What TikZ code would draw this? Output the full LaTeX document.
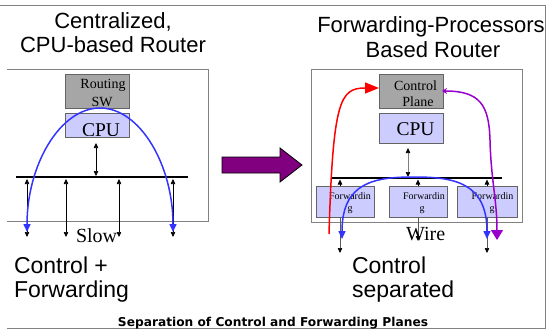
\documentclass[tikz,border=0pt]{standalone}
\usepackage{fontspec}
\setmainfont{Liberation Serif}
\newfontfamily\headfont{Liberation Sans}
\newfontfamily\capfont{DejaVu Sans}
\usetikzlibrary{arrows.meta}
\definecolor{boxgray}{RGB}{166,166,166}
\definecolor{boxedge}{RGB}{100,100,100}
\definecolor{lavender}{RGB}{204,204,255}
\definecolor{framegray}{RGB}{130,130,130}
\definecolor{arcblue}{RGB}{51,51,255}
\definecolor{ctlpurple}{RGB}{153,0,204}
\definecolor{bigpurple}{RGB}{128,0,128}
\begin{document}
\begin{tikzpicture}[x=1pt,y=-1pt,
  every node/.style={inner sep=0pt, outer sep=0pt},
  swbox/.style={draw=boxedge, fill=boxgray, line width=0.8pt, minimum width=64pt, minimum height=34pt},
  cpubox/.style={draw=boxedge, fill=lavender, line width=0.8pt, minimum width=64pt},
  fwdbox/.style={draw=boxedge, fill=lavender, line width=0.8pt, minimum height=31pt},
  routerframe/.style={draw=framegray, line width=1pt},
  busline/.style={line width=1.6pt},
  dblarrow/.style={{Triangle[length=5pt,width=4.5pt,color=black]}-{Triangle[length=5pt,width=4.5pt,color=black]}, line width=0.6pt},
  uparrow/.style={-{Triangle[length=5pt,width=4.5pt,color=black]}, line width=0.6pt},
  arcpath/.style={arcblue, line width=1.5pt, {Triangle[length=8pt,width=7pt]}-{Triangle[length=8pt,width=7pt]}},
  headline/.style={font=\headfont\fontsize{22}{24}\selectfont, anchor=base},
  bigline/.style={font=\headfont\fontsize{23}{24}\selectfont, anchor=base west},
  boxtext/.style={font=\fontsize{14}{14}\selectfont, anchor=base},
  cputext/.style={font=\fontsize{19.5}{20}\selectfont, anchor=base},
  fwdtext/.style={font=\fontsize{10}{10}\selectfont, anchor=base},
  wiretext/.style={font=\fontsize{20}{20}\selectfont, anchor=base west}
]
\useasboundingbox (0,0) rectangle (550,330);

% outer frame
\draw[framegray, line width=1pt] (0,5) -- (545,5) -- (545,328) -- (7,328);

% ---------- left: centralized router ----------
\node[headline] (lt1) at (113,28) {Centralized,};
\node[headline] (lt2) at (113,52) {CPU-based Router};

\draw[routerframe] (7,69) -- (208,69) -- (208,221) -- (7,221);

\node[swbox] (rsw) at (97,91) {};
\node[cpubox, minimum height=24pt] (lcpu) at (97,125) {};
\begin{scope}
  \clip (66,75) rectangle (128,105);
  \node[boxtext] (rswa) at (103,88) {Routing};
  \node[boxtext] (rswb) at (102,106.5) {SW};
\end{scope}
\begin{scope}
  \clip (66,114) rectangle (128,135);
  \node[cputext] (lcput) at (101,136) {CPU};
\end{scope}

\coordinate (lbusW) at (16,177);
\coordinate (lbusE) at (188,177);
\draw[busline] (lbusW) -- (lbusE);

\coordinate (lcpuA) at (96,143);
\coordinate (lcpuB) at (96,176);
\draw[dblarrow] (lcpuA) -- (lcpuB);

\foreach \px/\nm in {27/a,66/b,119/c,173/d}{
  \coordinate (lt\nm) at (\px,179);
  \coordinate (lb\nm) at (\px,237);
  \draw[dblarrow] (lt\nm) -- (lb\nm);
}

\node[wiretext] (slow) at (76,242) {Slow};

\coordinate (lArcA) at (27,232);
\coordinate (lArcTop) at (100,108);
\coordinate (lArcB) at (173,232);
\draw[arcpath] (lArcA) .. controls (27,165) and (60,108) .. (lArcTop)
               .. controls (140,108) and (173,165) .. (lArcB);

\node[bigline] (lb1) at (14,273) {Control +};
\node[bigline] (lb2) at (14,297) {Forwarding};

% ---------- middle arrow ----------
\draw[fill=bigpurple, line width=0.8pt] (222,157) -- (280,157) -- (280,148) -- (302,165)
  -- (280,182) -- (280,173) -- (222,173) -- cycle;

% ---------- right: forwarding-processor router ----------
\node[headline] (rt1) at (431,32) {Forwarding-Processors};
\node[headline] (rt2) at (433,57) {Based Router};

\draw[routerframe] (311,69) rectangle (522,222);

\node[swbox] (cp) at (411,91) {};
\node[cpubox, minimum height=30pt] (rcpu) at (411,128) {};
\begin{scope}
  \clip (380,75) rectangle (442,105);
  \node[boxtext] (cpa) at (415.5,90) {Control};
  \node[boxtext] (cpb) at (418,106.5) {Plane};
\end{scope}
\node[cputext] (rcput) at (415.5,135) {CPU};

\node[fwdbox, minimum width=58pt] (f1) at (345,201.5) {};
\node[fwdbox, minimum width=58pt] (f2) at (418,201.5) {};
\node[fwdbox, minimum width=60pt] (f3) at (487,201.5) {};
\begin{scope}
  \clip (317,187) rectangle (516,213.5);
  \node[fwdtext] (f1a) at (350,199) {Forwardin};
  \node[fwdtext] (f1b) at (350,211.5) {g};
  \node[fwdtext] (f2a) at (424,199) {Forwardin};
  \node[fwdtext] (f2b) at (422,211.5) {g};
  \node[fwdtext] (f3a) at (492.5,199) {Forwardin};
  \node[fwdtext] (f3b) at (492,211.5) {g};
\end{scope}

\coordinate (rbusW) at (332,178);
\coordinate (rbusE) at (502,178);
\draw[busline] (rbusW) -- (rbusE);

\coordinate (rcpuA) at (408,148);
\coordinate (rcpuB) at (408,177);
\draw[dblarrow, draw=gray] (rcpuA) -- (rcpuB);

\foreach \px in {340,418,487}{
  \draw[uparrow] (\px,186) -- (\px,179.5);
}
\coordinate (w1) at (340,253);
\coordinate (w2) at (418,241);
\coordinate (w3) at (487,253);
\draw[uparrow, draw=gray!70!black] (f1.south -| w1) -- (w1);
\draw[uparrow, draw=gray!70!black] (f2.south -| w2) -- (w2);
\draw[uparrow, draw=gray!70!black] (f3.south -| w3) -- (w3);

\node[wiretext] (wire) at (406,240) {Wire};

\coordinate (rArcA) at (342,239);
\coordinate (rArcTop) at (414,177);
\coordinate (rArcB) at (487,239);
\draw[arcpath] (rArcA) .. controls (342,182) and (375,177) .. (rArcTop)
               .. controls (453,177) and (487,182) .. (rArcB);

\coordinate (redStart) at (329,234);
\coordinate (redEnd) at (379,88);
\draw[red, line width=1.5pt, -{Triangle[length=14pt,width=11pt]}]
  (redStart) .. controls (333,100) and (340,88) .. (redEnd);

\coordinate (purpleStart) at (442,91);
\coordinate (purpleEnd) at (497,240);
\draw[ctlpurple, line width=1.5pt, {Stealth[length=5pt,width=6pt]}-{Triangle[length=10pt,width=12pt]}]
  (purpleStart) .. controls (480,91) and (489,105) .. (490,140)
  .. controls (491,180) and (497,200) .. (purpleEnd);

\node[bigline] (rb1) at (352,273) {Control};
\node[bigline] (rb2) at (352,297) {separated};

% caption
\node[font=\capfont\bfseries\fontsize{12.2}{13}\selectfont, anchor=base] (cap) at (273,326)
  {Separation of Control and Forwarding Planes};
\end{tikzpicture}
\end{document}
